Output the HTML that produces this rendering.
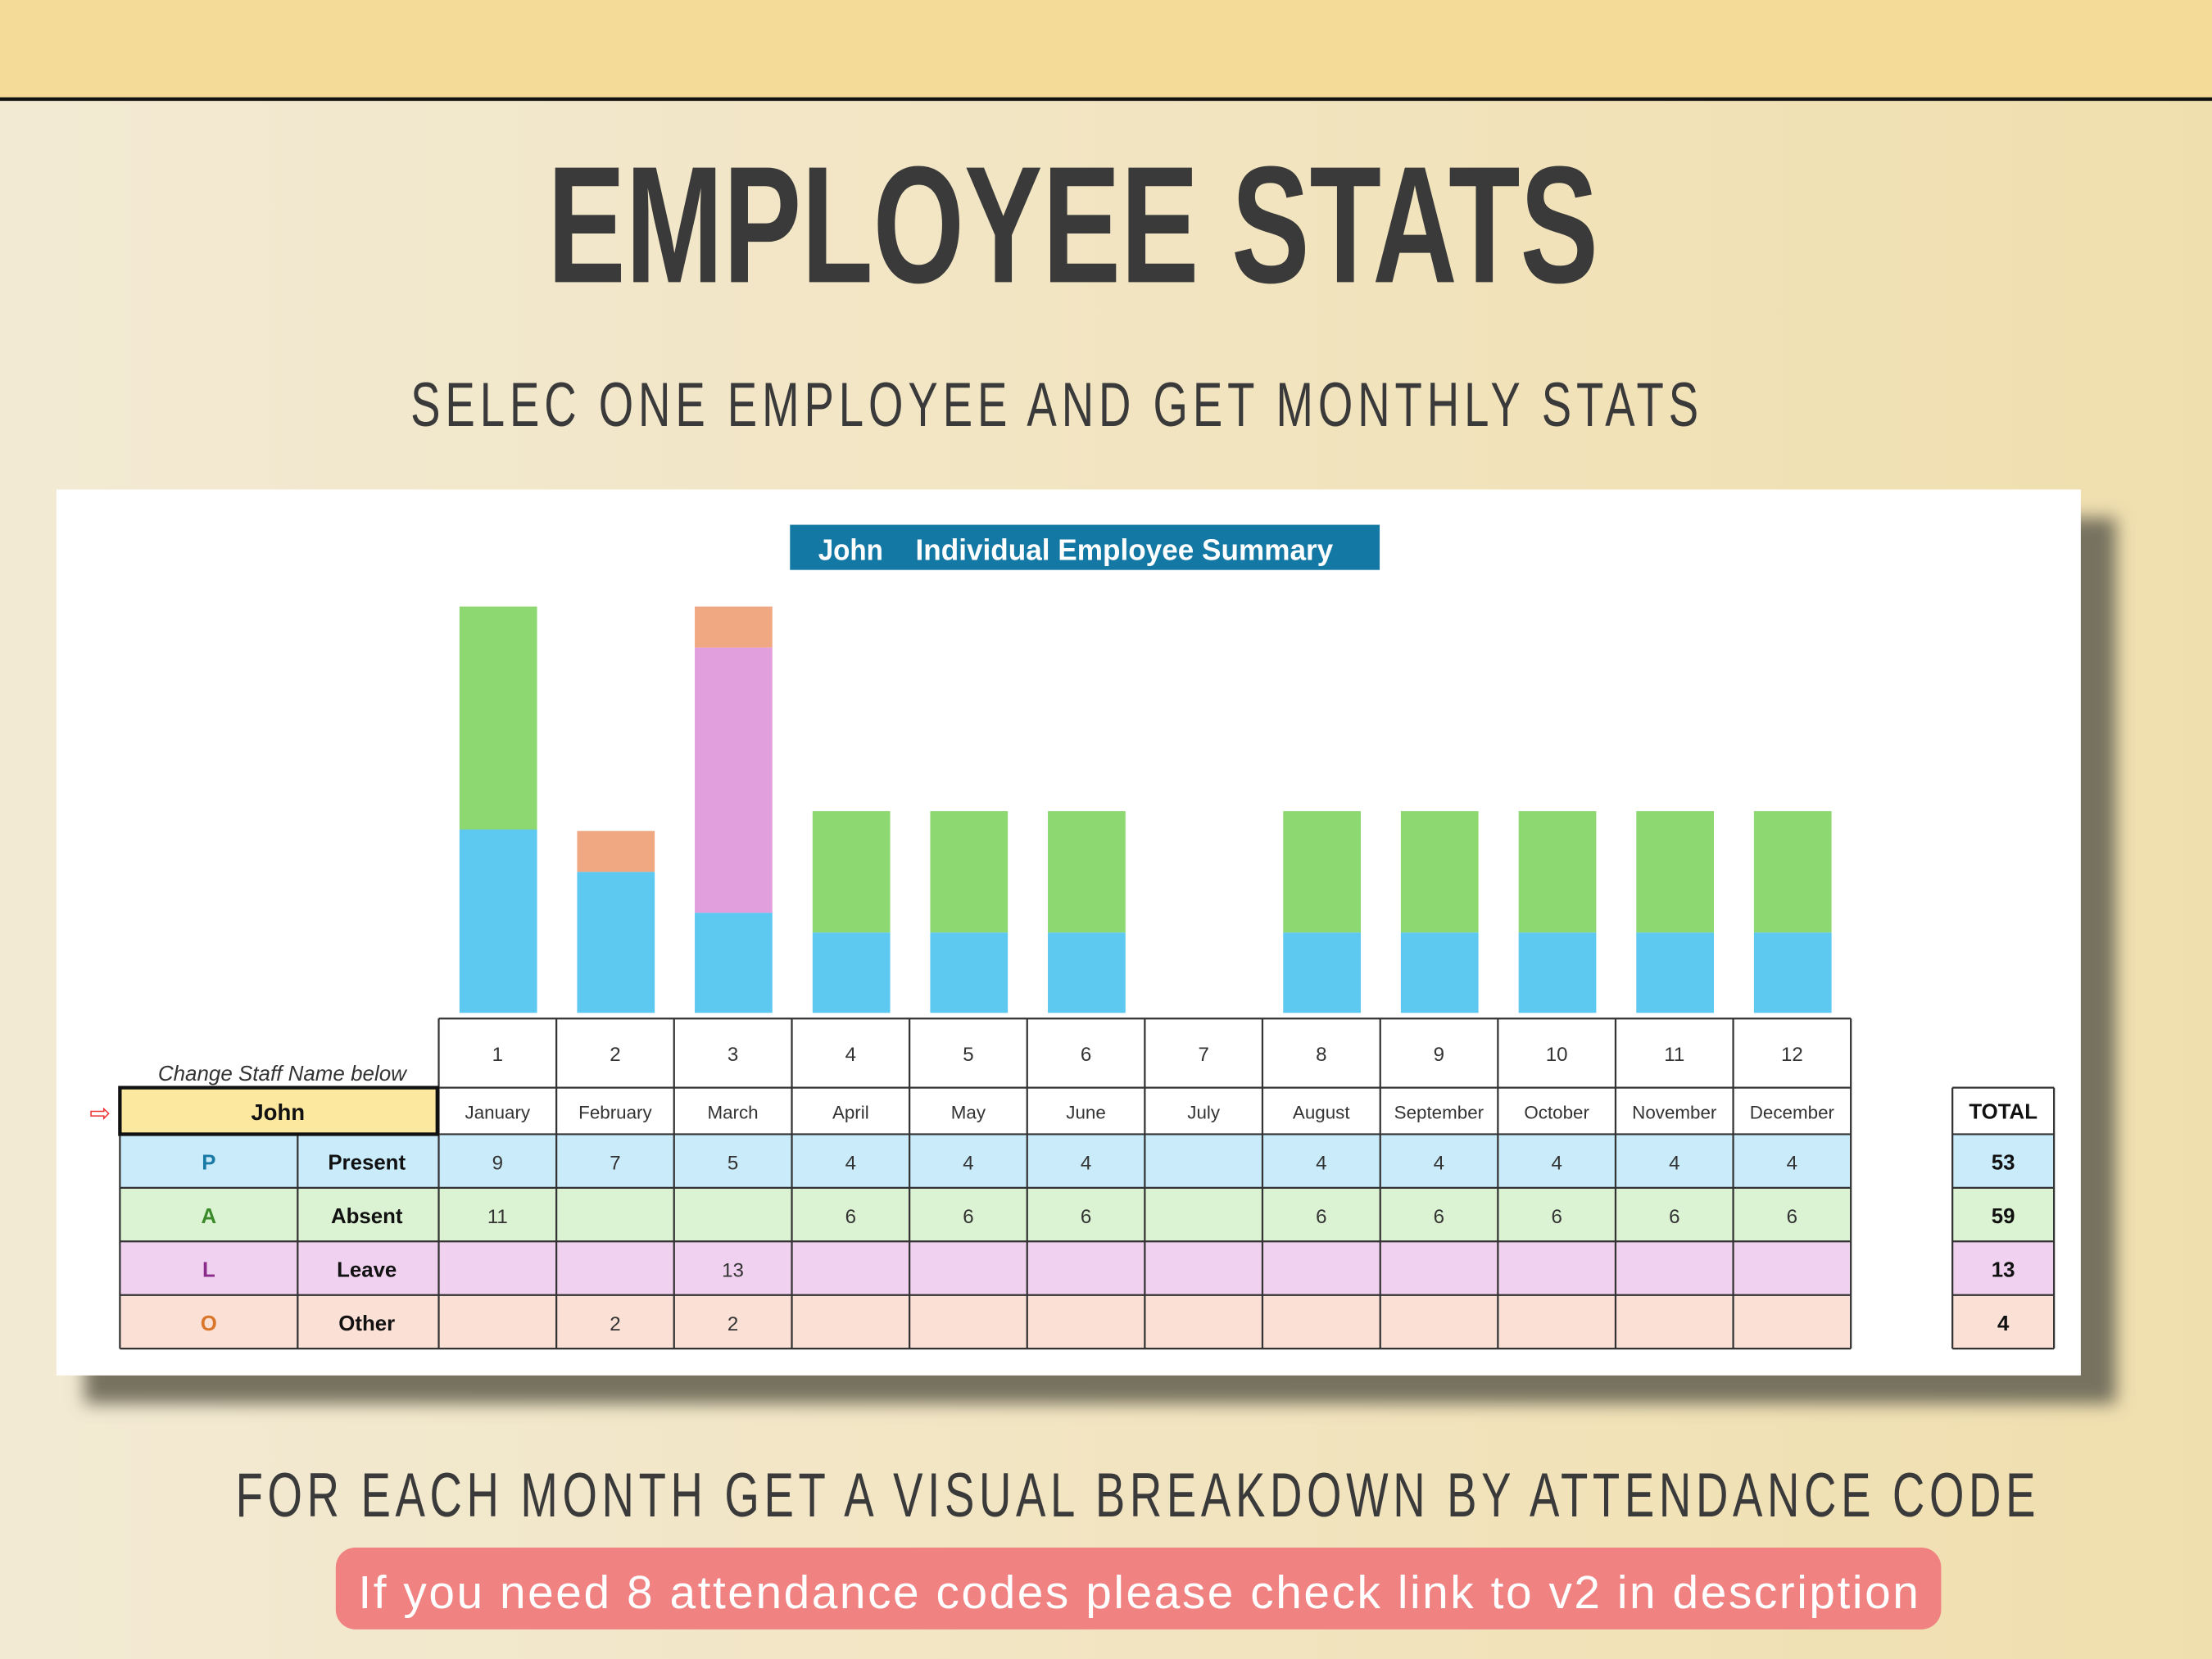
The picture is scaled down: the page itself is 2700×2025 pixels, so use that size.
<!DOCTYPE html>
<html><head><meta charset="utf-8">
<style>
html,body{margin:0;padding:0;width:2700px;height:2025px;overflow:hidden}
svg{display:block}
text{font-family:"Liberation Sans Narrow","Liberation Sans",sans-serif}
</style></head><body>
<svg width="2700" height="2025" viewBox="0 0 1568 1176" xmlns="http://www.w3.org/2000/svg">
<defs>
<linearGradient id="bg" x1="0" x2="1" y1="0" y2="0">
<stop offset="0" stop-color="#f3ead4"/><stop offset="1" stop-color="#f0dfae"/></linearGradient>
<filter id="sh" x="-5%" y="-5%" width="115%" height="120%"><feGaussianBlur stdDeviation="6"/></filter>
</defs>
<rect width="1568" height="1176" fill="url(#bg)"/>
<rect width="1568" height="70" fill="#f4dc98"/>
<rect y="69" width="1568" height="2.5" fill="#111"/>

<text x="388" y="200" font-size="118" font-weight="bold" fill="#3a3a3a" textLength="745" lengthAdjust="spacingAndGlyphs">EMPLOYEE STATS</text>
<text transform="translate(291,302) scale(0.72,1)" x="0" y="0" font-size="44" fill="#3a3a3a" textLength="1268" lengthAdjust="spacing">SELEC ONE EMPLOYEE AND GET MONTHLY STATS</text>

<rect x="60" y="367" width="1440" height="628" fill="#77725f" filter="url(#sh)"/>
<rect x="40" y="347" width="1435" height="628" fill="#fff"/>

<rect x="560" y="372" width="418" height="32" fill="#1378a4"/>
<text x="580" y="397" font-size="21" font-weight="bold" fill="#fff" textLength="46" lengthAdjust="spacingAndGlyphs">John</text>
<text x="649" y="397" font-size="21" font-weight="bold" fill="#fff" textLength="296" lengthAdjust="spacingAndGlyphs">Individual Employee Summary</text>

<!-- bars -->
<g>
<rect x="325.7" y="588" width="55" height="130" fill="#5dc8f0"/><rect x="325.7" y="430" width="55" height="158" fill="#8ed872"/>
<rect x="409.1" y="618" width="55" height="100" fill="#5dc8f0"/><rect x="409.1" y="589" width="55" height="29" fill="#f0a882"/>
<rect x="492.5" y="647" width="55" height="71" fill="#5dc8f0"/><rect x="492.5" y="459" width="55" height="188" fill="#e29fde"/><rect x="492.5" y="430" width="55" height="29" fill="#f0a882"/>
<g fill="#5dc8f0">
<rect x="576" y="661" width="55" height="57"/><rect x="659.4" y="661" width="55" height="57"/><rect x="742.8" y="661" width="55" height="57"/>
<rect x="909.6" y="661" width="55" height="57"/><rect x="993" y="661" width="55" height="57"/><rect x="1076.5" y="661" width="55" height="57"/>
<rect x="1159.9" y="661" width="55" height="57"/><rect x="1243.3" y="661" width="55" height="57"/></g>
<g fill="#8ed872">
<rect x="576" y="575" width="55" height="86"/><rect x="659.4" y="575" width="55" height="86"/><rect x="742.8" y="575" width="55" height="86"/>
<rect x="909.6" y="575" width="55" height="86"/><rect x="993" y="575" width="55" height="86"/><rect x="1076.5" y="575" width="55" height="86"/>
<rect x="1159.9" y="575" width="55" height="86"/><rect x="1243.3" y="575" width="55" height="86"/></g>
</g>

<!-- table backgrounds -->
<rect x="85" y="771" width="225" height="33" fill="#fde8a0"/>
<rect x="85" y="804" width="1227" height="38" fill="#c9ebfa"/>
<rect x="85" y="842" width="1227" height="38" fill="#dbf2d3"/>
<rect x="85" y="880" width="1227" height="38" fill="#f0d2f0"/>
<rect x="85" y="918" width="1227" height="38" fill="#fbe0d5"/>
<rect x="1384" y="804" width="72" height="38" fill="#c9ebfa"/>
<rect x="1384" y="842" width="72" height="38" fill="#dbf2d3"/>
<rect x="1384" y="880" width="72" height="38" fill="#f0d2f0"/>
<rect x="1384" y="918" width="72" height="38" fill="#fbe0d5"/>

<g stroke="#333" stroke-width="1.3" fill="none">
<path d="M311 722H1312M311 771H1312M85 804H1312M85 842H1312M85 880H1312M85 918H1312M85 956H1312"/>
<path d="M311 722V956M394.4 722V956M477.8 722V956M561.3 722V956M644.7 722V956M728.1 722V956M811.5 722V956M894.9 722V956M978.4 722V956M1061.8 722V956M1145.2 722V956M1228.6 722V956M1312 722V956M85 804V956M211 804V956"/>
<path d="M1384 771H1456M1384 804H1456M1384 842H1456M1384 880H1456M1384 918H1456M1384 956H1456M1384 771V956M1456 771V956"/>
</g>
<rect x="85" y="771" width="225" height="33" fill="none" stroke="#111" stroke-width="2.5"/>

<text x="112" y="766" font-size="15" font-style="italic" fill="#333" textLength="176" lengthAdjust="spacingAndGlyphs">Change Staff Name below</text>
<text x="71" y="795" font-size="18" fill="#e33" text-anchor="middle">⇨</text>
<text x="197" y="794" font-size="16" font-weight="bold" fill="#111" text-anchor="middle">John</text>

<g font-size="14" fill="#333" text-anchor="middle">
<text x="352.7" y="752">1</text><text x="436.1" y="752">2</text><text x="519.5" y="752">3</text><text x="603" y="752">4</text><text x="686.4" y="752">5</text><text x="769.8" y="752">6</text><text x="853.2" y="752">7</text><text x="936.6" y="752">8</text><text x="1020" y="752">9</text><text x="1103.5" y="752">10</text><text x="1186.9" y="752">11</text><text x="1270.3" y="752">12</text>
</g>
<g font-size="13" fill="#333" text-anchor="middle">
<text x="352.7" y="793">January</text><text x="436.1" y="793">February</text><text x="519.5" y="793">March</text><text x="603" y="793">April</text><text x="686.4" y="793">May</text><text x="769.8" y="793">June</text><text x="853.2" y="793">July</text><text x="936.6" y="793">August</text><text x="1020" y="793">September</text><text x="1103.5" y="793">October</text><text x="1186.9" y="793">November</text><text x="1270.3" y="793">December</text>
</g>

<g font-size="15" font-weight="bold" text-anchor="middle">
<text x="148" y="829" fill="#1a7aa6">P</text><text x="148" y="867" fill="#3a8a2a">A</text><text x="148" y="905" fill="#8a2a8a">L</text><text x="148" y="943" fill="#d9762a">O</text>
<g fill="#111"><text x="260" y="829">Present</text><text x="260" y="867">Absent</text><text x="260" y="905">Leave</text><text x="260" y="943">Other</text>
<text x="1420" y="793">TOTAL</text><text x="1420" y="829">53</text><text x="1420" y="867">59</text><text x="1420" y="905">13</text><text x="1420" y="943">4</text></g>
</g>

<g font-size="14" fill="#333" text-anchor="middle">
<text x="352.7" y="829">9</text><text x="436.1" y="829">7</text><text x="519.5" y="829">5</text><text x="603" y="829">4</text><text x="686.4" y="829">4</text><text x="769.8" y="829">4</text><text x="936.6" y="829">4</text><text x="1020" y="829">4</text><text x="1103.5" y="829">4</text><text x="1186.9" y="829">4</text><text x="1270.3" y="829">4</text>
<text x="352.7" y="867">11</text><text x="603" y="867">6</text><text x="686.4" y="867">6</text><text x="769.8" y="867">6</text><text x="936.6" y="867">6</text><text x="1020" y="867">6</text><text x="1103.5" y="867">6</text><text x="1186.9" y="867">6</text><text x="1270.3" y="867">6</text>
<text x="519.5" y="905">13</text>
<text x="436.1" y="943">2</text><text x="519.5" y="943">2</text>
</g>

<text transform="translate(167,1075) scale(0.72,1)" x="0" y="0" font-size="44" fill="#3a3a3a" textLength="1772" lengthAdjust="spacing">FOR EACH MONTH GET A VISUAL BREAKDOWN BY ATTENDANCE CODE</text>
<rect x="238" y="1097" width="1138" height="58" rx="14" fill="#f08282"/>
<text x="254" y="1140" font-size="33" fill="#fff" textLength="1106" lengthAdjust="spacing">If you need 8 attendance codes please check link to v2 in description</text>
</svg>
</body></html>
